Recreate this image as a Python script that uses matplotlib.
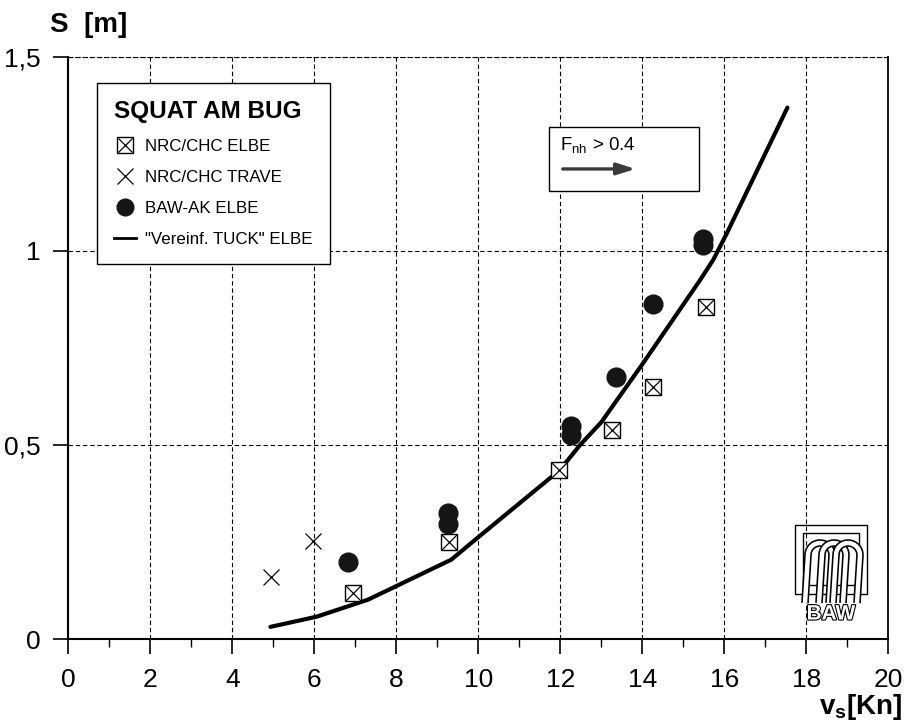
import numpy as np
import matplotlib
matplotlib.use('Agg')
import matplotlib.pyplot as plt
from matplotlib.lines import Line2D
from matplotlib.legend_handler import HandlerTuple
from matplotlib.patches import Rectangle, PathPatch
from matplotlib.path import Path
import matplotlib.patheffects as pe

plt.rcParams['font.family'] = ['Liberation Sans', 'DejaVu Sans']
plt.rcParams['mathtext.fontset'] = 'custom'
plt.rcParams['mathtext.rm'] = 'Liberation Sans'
plt.rcParams['mathtext.bf'] = 'Liberation Sans:bold'

# NRC/CHC ELBE (box with cross)
nrc_elbe_v = [6.95, 9.28, 11.98, 13.25, 14.25, 15.55]
nrc_elbe_s = [0.12, 0.25, 0.437, 0.538, 0.649, 0.855]

# NRC/CHC TRAVE (cross)
nrc_trave_v = [4.95, 5.97]
nrc_trave_s = [0.161, 0.252]

# BAW-AK ELBE (filled circles)
baw_v = [6.82, 9.26, 9.26, 12.27, 12.27, 13.36, 14.25, 15.47, 15.47]
baw_s = [0.200, 0.324, 0.298, 0.55, 0.525, 0.675, 0.863, 1.03, 1.015]

# "Vereinf. TUCK" ELBE
tuck_v = [4.93, 6.05, 7.31, 9.34, 10.07, 11.98, 12.48, 13.0, 14.02, 15.41, 15.73, 16.06, 17.54]
tuck_s = [0.032, 0.058, 0.102, 0.205, 0.269, 0.435, 0.50, 0.559, 0.711, 0.925, 0.977, 1.045, 1.369]

xticks = list(range(0, 21, 2))
yticks = [0, 0.5, 1, 1.5]
ylabels = ['0', '0,5', '1', '1,5']

W, H = 908, 724


def px(x, y):
    # pixel position -> figure fraction
    return x / W, 1 - y / H


fig = plt.figure(figsize=(W / 100, H / 100), dpi=100)
ax = fig.add_axes([68.3 / W, 1 - 639.3 / H, 820 / W, 582.6 / H])

ax.set_xlim(0, 20)
ax.set_ylim(0, 1.5)
ax.set_xticks(xticks)
ax.set_xticks(range(1, 20, 2), minor=True)
ax.set_yticks(yticks)
ax.set_yticklabels(ylabels)
ax.tick_params(axis='both', which='major', labelsize=19, direction='out', length=11, width=1.2)
ax.tick_params(axis='x', which='major', pad=10)
ax.tick_params(axis='y', which='major', pad=9)
ax.tick_params(axis='x', which='minor', direction='out', length=6, width=1.0)

ax.grid(True, which='major', ls=(0, (4, 2.5)), lw=0.8, color='black')
ax.set_axisbelow(True)
ax.spines['left'].set_linewidth(1.5)
ax.spines['bottom'].set_linewidth(1.5)
ax.spines['right'].set_linewidth(1.3)
ax.spines['top'].set_linewidth(0.8)
ax.spines['top'].set_linestyle((0, (4, 2.5)))

# curve and points
ax.plot(tuck_v, tuck_s, color='black', lw=3.0, solid_capstyle='round', zorder=3)
ax.plot(nrc_trave_v, nrc_trave_s, ls='none', marker='x', ms=11, mew=0.9, color='black', zorder=4)
ax.plot(nrc_elbe_v, nrc_elbe_s, ls='none', marker='s', ms=12, mfc='white', mec='black', mew=1.0, zorder=4)
ax.plot(nrc_elbe_v, nrc_elbe_s, ls='none', marker='x', ms=11, mew=0.9, color='black', zorder=5)
ax.plot(baw_v, baw_s, ls='none', marker='o', ms=13.5, color='#151515', zorder=4)

# legend
h_box = (Line2D([], [], ls='none', marker='s', ms=11, mfc='white', mec='black', mew=1.0),
         Line2D([], [], ls='none', marker='x', ms=10, mew=0.9, color='black'))
h_x = Line2D([], [], ls='none', marker='x', ms=11, mew=0.9, color='black')
h_o = Line2D([], [], ls='none', marker='o', ms=12, color='#151515')
h_l = Line2D([], [], color='black', lw=2.0)
leg = ax.legend([h_box, h_x, h_o, h_l],
                ['NRC/CHC ELBE', 'NRC/CHC TRAVE', 'BAW-AK ELBE', '"Vereinf. TUCK" ELBE'],
                handler_map={tuple: HandlerTuple(ndivide=1, pad=0)},
                title='SQUAT AM BUG', title_fontproperties={'weight': 'bold', 'size': 17.5},
                alignment='left', fontsize=12.2, loc='upper left',
                bbox_to_anchor=px(97, 83), bbox_transform=fig.transFigure,
                frameon=True, fancybox=False, framealpha=1, edgecolor='black',
                handlelength=1.3, handletextpad=0.55, labelspacing=0.95, borderpad=1.0,
                borderaxespad=0)
leg.get_frame().set_linewidth(1.0)
leg.set_zorder(6)

# Froude box with arrow
ax.add_patch(Rectangle((11.72, 1.154), 3.66, 0.165, facecolor='white', edgecolor='black',
                       lw=1.0, zorder=6))
ax.text(12.0, 1.27, r'F$_{\mathregular{nh}}$ > 0.4', fontsize=13.5, va='center', ha='left', zorder=7)
ax.annotate('', xy=(13.9, 1.211), xytext=(11.99, 1.211),
            arrowprops=dict(arrowstyle='-|>,head_length=1.1,head_width=0.35', lw=2.4,
                            color='#3a3a3a'), zorder=7)

# axis titles
fig.text(*px(50, 12), 'S  [m]', fontsize=20, fontweight='bold', ha='left', va='top')
fig.text(*px(902, 722), r'$\mathbf{v}_\mathbf{s}\mathbf{[Kn]}$', fontsize=20, ha='right', va='bottom')

# BAW logo
x0, y0 = px(795, 594)
x1, y1 = px(867, 525)
fig.patches.append(Rectangle((x0, y0), x1 - x0, y1 - y0, transform=fig.transFigure,
                             fill=False, ec='black', lw=1.0))
ix0, iy0 = px(803, 585)
ix1, iy1 = px(859, 533)
fig.patches.append(Rectangle((ix0, iy0), ix1 - ix0, iy1 - iy0, transform=fig.transFigure,
                             fill=False, ec='black', lw=1.0))
for cx in [817, 831, 845]:
    t = np.linspace(np.pi, 0, 20)
    top = [(cx + 3 + 12 * np.cos(a), 555 - 12 * np.sin(a)) for a in t]
    pts = [(cx - 12, 603)] + top + [(cx + 12, 603)]
    verts = [px(*p) for p in pts]
    path = Path(verts)
    fig.patches.append(PathPatch(path, transform=fig.transFigure, fill=False, ec='black', lw=5.5))
    fig.patches.append(PathPatch(path, transform=fig.transFigure, fill=False, ec='white', lw=3.2))
fig.text(*px(831, 614), 'BAW', fontsize=15, fontweight='bold', color='white', ha='center',
         va='center', path_effects=[pe.withStroke(linewidth=1.6, foreground='black')])

fig.savefig('out.png', dpi=100)
